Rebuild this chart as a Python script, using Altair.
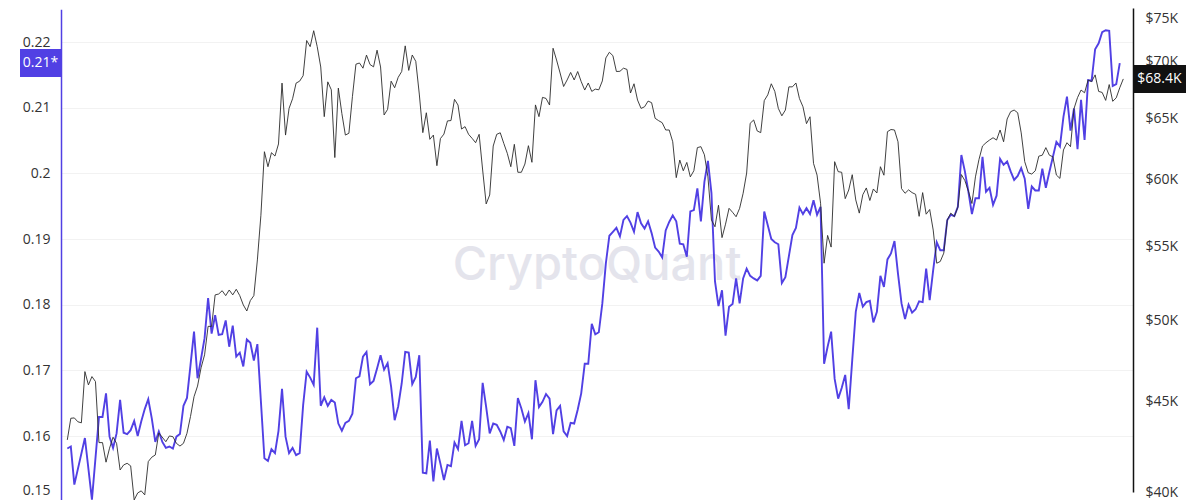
import math
import altair as alt
import pandas as pd

# ---------------- data ----------------
# Bitcoin price (USD), daily index from start of the window
black_days = list(range(0, 27)) + list(range(28, 301))
black_price_k = [
    42.80, 44.02, 44.04, 43.82, 43.76, 46.77, 45.97, 46.47, 46.17, 42.65,
    42.65, 41.58, 42.34, 42.95, 42.61, 41.16, 41.43, 41.52, 41.38, 39.59,
    39.95, 40.06, 39.85, 41.61, 41.85, 41.97, 43.19,
    42.70, 43.02, 42.98, 42.61, 42.46, 42.61, 43.17, 44.12, 45.27, 45.90,
    47.00, 47.80, 49.60, 49.60, 51.67, 51.73, 51.95, 51.62, 52.00, 51.67,
    52.05, 51.62, 51.00, 50.60, 51.29, 51.62, 54.07, 57.30, 62.23, 61.03,
    62.15, 61.88, 62.86, 68.03, 63.59, 65.83, 66.66, 68.03, 68.20, 68.69,
    71.90, 71.33, 72.82, 71.33, 69.47, 65.13, 68.14, 67.44, 61.76, 67.59,
    65.40, 63.59, 63.74, 66.84, 69.72, 69.83, 69.36, 70.55, 69.69, 69.48,
    71.00, 69.47, 65.27, 65.75, 68.20, 67.62, 68.54, 69.06, 71.40, 69.16,
    70.56, 69.98, 67.07, 63.79, 65.46, 63.24, 63.59, 61.11, 63.30, 63.67,
    64.77, 64.80, 66.61, 66.12, 64.09, 64.29, 63.65, 63.32, 62.96, 63.65,
    60.77, 58.15, 58.83, 62.69, 63.65, 63.78, 62.91, 62.10, 61.03, 62.83,
    60.59, 60.59, 61.24, 62.72, 61.38, 66.13, 65.13, 66.78, 66.69, 66.12,
    71.18, 70.10, 68.93, 67.73, 68.31, 68.98, 68.31, 69.06, 68.16, 67.42,
    68.04, 67.30, 67.50, 67.44, 68.22, 70.29, 70.81, 70.50, 69.06, 69.08,
    69.36, 69.25, 67.16, 67.97, 66.55, 65.83, 65.97, 66.46, 66.32, 64.99,
    64.79, 64.62, 64.01, 64.01, 63.04, 60.17, 61.56, 60.71, 61.37, 60.23,
    60.71, 62.56, 62.64, 61.98, 60.23, 56.95, 56.45, 58.05, 55.66, 56.64,
    57.82, 57.52, 57.19, 57.82, 58.96, 60.53, 64.57, 64.85, 63.93, 63.79,
    66.50, 67.00, 67.97, 67.30, 65.83, 65.20, 65.69, 67.70, 67.70, 68.04,
    66.68, 65.97, 64.54, 65.12, 61.29, 60.37, 58.20, 53.84, 55.82, 54.98,
    61.43, 60.64, 60.59, 58.55, 59.21, 60.40, 58.45, 57.46, 58.85, 59.37,
    58.41, 59.29, 58.98, 61.03, 60.36, 63.87, 64.05, 64.01, 63.04, 59.32,
    58.96, 59.22, 59.01, 58.88, 57.22, 59.01, 57.38, 57.73, 56.21, 53.84,
    53.96, 54.55, 56.95, 57.46, 57.20, 57.91, 60.41, 59.94, 59.12, 58.18,
    60.23, 61.60, 62.69, 62.96, 63.18, 63.37, 63.18, 64.01, 63.04, 64.93,
    65.55, 65.69, 65.46, 63.77, 61.43, 60.55, 60.45, 60.71, 61.87, 61.95,
    62.56, 61.95, 61.82, 60.37, 60.11, 62.37, 62.96, 62.64, 65.81, 66.76,
    67.42, 67.18, 68.30, 68.16, 68.76, 67.30, 67.21, 66.52, 67.90, 66.44,
    66.74, 67.62, 68.40,
]

# Indicator (left axis)
blue_days = ([0, 1, 2, 5, 7] + list(range(9, 55)) + list(range(56, 280))
             + list(range(281, 300)))
blue_ratio = [
    0.1581, 0.1584, 0.1526, 0.1597, 0.1503,
    0.1629, 0.1629, 0.1665, 0.1599, 0.1582, 0.1604, 0.1655, 0.1605, 0.1603, 0.1609,
    0.1623, 0.1600, 0.1622, 0.1641, 0.1656, 0.1627, 0.1591, 0.1607, 0.1591, 0.1582,
    0.1584, 0.1581, 0.1599, 0.1603, 0.1646, 0.1658, 0.1708, 0.1759, 0.1688, 0.1718,
    0.1749, 0.1810, 0.1756, 0.1784, 0.1754, 0.1755, 0.1776, 0.1736, 0.1768, 0.1721,
    0.1727, 0.1706, 0.1747, 0.1742, 0.1715, 0.1740,
    0.1566, 0.1562, 0.1580, 0.1574, 0.1608, 0.1672, 0.1599, 0.1574, 0.1582, 0.1571,
    0.1574, 0.1647, 0.1698, 0.1689, 0.1678, 0.1765, 0.1646, 0.1659, 0.1646, 0.1655,
    0.1651, 0.1619, 0.1608, 0.1620, 0.1623, 0.1634, 0.1688, 0.1691, 0.1721, 0.1728,
    0.1679, 0.1684, 0.1703, 0.1723, 0.1701, 0.1711, 0.1675, 0.1624, 0.1645, 0.1680,
    0.1728, 0.1727, 0.1679, 0.1690, 0.1723, 0.1544, 0.1543, 0.1593, 0.1531, 0.1581,
    0.1558, 0.1533, 0.1556, 0.1554, 0.1590, 0.1580, 0.1623, 0.1586, 0.1589, 0.1623,
    0.1585, 0.1595, 0.1681, 0.1644, 0.1604, 0.1619, 0.1617, 0.1607, 0.1594, 0.1614,
    0.1612, 0.1585, 0.1658, 0.1642, 0.1622, 0.1635, 0.1595, 0.1685, 0.1644, 0.1652,
    0.1664, 0.1657, 0.1603, 0.1639, 0.1646, 0.1607, 0.1600, 0.1620, 0.1619, 0.1640,
    0.1665, 0.1710, 0.1710, 0.1771, 0.1755, 0.1758, 0.1802, 0.1863, 0.1905, 0.1911,
    0.1917, 0.1904, 0.1929, 0.1935, 0.1925, 0.1911, 0.1941, 0.1924, 0.1916, 0.1927,
    0.1909, 0.1887, 0.1881, 0.1872, 0.1913, 0.1926, 0.1936, 0.1927, 0.1893, 0.1892,
    0.1873, 0.1942, 0.1944, 0.1977, 0.1927, 0.1987, 0.2019, 0.1970, 0.1836, 0.1798,
    0.1822, 0.1753, 0.1797, 0.1801, 0.1840, 0.1802, 0.1840, 0.1855, 0.1844, 0.1840,
    0.1837, 0.1844, 0.1942, 0.1921, 0.1900, 0.1895, 0.1892, 0.1833, 0.1842, 0.1874,
    0.1906, 0.1917, 0.1948, 0.1938, 0.1947, 0.1938, 0.1959, 0.1937, 0.1949, 0.1710,
    0.1736, 0.1759, 0.1687, 0.1657, 0.1673, 0.1693, 0.1641, 0.1716, 0.1789, 0.1818,
    0.1797, 0.1804, 0.1806, 0.1773, 0.1789, 0.1844, 0.1827, 0.1869, 0.1878, 0.1897,
    0.1847, 0.1802, 0.1778, 0.1800, 0.1788, 0.1793, 0.1805, 0.1804, 0.1855, 0.1807,
    0.1853, 0.1895, 0.1883, 0.1883, 0.1929, 0.1937, 0.1935, 0.1949, 0.2028, 0.2003,
    0.1972, 0.1938, 0.1962, 0.1962, 0.2025, 0.1972, 0.1978, 0.1952, 0.1966, 0.2022,
    0.2013, 0.2018, 0.2003, 0.1990, 0.1996, 0.2008, 0.1992, 0.1946, 0.1980, 0.1974,
    0.1974, 0.2007, 0.1978, 0.2002,
    0.2048, 0.2041, 0.2086, 0.2117, 0.2065, 0.2099, 0.2037, 0.2112, 0.2051, 0.2142,
    0.2141, 0.2189, 0.2198, 0.2215, 0.2218, 0.2217, 0.2133, 0.2136, 0.2168,
]

left_ticks = [0.15, 0.16, 0.17, 0.18, 0.19, 0.20, 0.21, 0.22]
right_ticks = [40000, 45000, 50000, 55000, 60000, 65000, 70000, 75000]
watermark_text = ["CryptoQuant"]

# ---------------- frames ----------------
black_df = pd.DataFrame({"day": black_days, "price": [v * 1000 for v in black_price_k]})
blue_df = pd.DataFrame({"day": blue_days, "ratio": blue_ratio})

last_ratio = blue_ratio[-1]
last_price = black_price_k[-1] * 1000
blue_last = pd.DataFrame({"ratio": [last_ratio],
                          "label": [f"{math.floor(last_ratio * 100) / 100:.2f}*"]})
black_last = pd.DataFrame({"price": [last_price],
                           "label": [f"${last_price / 1000:.1f}K"]})
wm_df = pd.DataFrame({"t": watermark_text})

BLUE = "#5140e4"
DARK = "#111111"
FONT = "Open Sans"
W, H = 1072, 482

x_enc = alt.X("day:Q", axis=None,
              scale=alt.Scale(domain=[-1.79, 302.76], nice=False, zero=False))

left_scale = alt.Scale(domain=[0.15, 0.225], range=[491.7, -0.8], nice=False, zero=False)
right_scale = alt.Scale(type="log", domain=[40000, 75000], range=[482, -2], nice=False)

left_axis = alt.Axis(orient="left", values=left_ticks, format=".2~f", grid=True,
                     gridColor="#f2f2f2", gridWidth=1, domainColor=BLUE, domainWidth=1.5,
                     ticks=False, labelPadding=11, title=None, labelFont=FONT,
                     labelFontSize=14, labelColor="#333333", labelOverlap=False,
                     labelBaseline={"condition": {"test": "datum.value < 0.155",
                                                  "value": "bottom"},
                                    "value": "middle"},
                     labelOffset={"condition": {"test": "datum.value < 0.155",
                                                "value": -4},
                                  "value": 0})
right_axis = alt.Axis(orient="right", values=right_ticks,
                      labelExpr="'$' + (datum.value / 1000) + 'K'", grid=False,
                      domainColor=DARK, domainWidth=1.5, ticks=False, labelPadding=12,
                      title=None, labelFont=FONT, labelFontSize=14, labelColor="#333333",
                      labelOverlap=False,
                      labelBaseline={"condition": {"test": "datum.value > 74000",
                                                   "value": "top"},
                                     "value": "middle"},
                      labelOffset={"condition": {"test": "datum.value > 74000",
                                                 "value": 3},
                                   "value": 0})

watermark = alt.Chart(wm_df).mark_text(
    font="Inter", fontSize=47, fontWeight=500, color="#e4e4ec",
    align="center", baseline="alphabetic"
).encode(x=alt.value(536), y=alt.value(270), text="t:N")

yl = alt.Y("ratio:Q", scale=left_scale, axis=left_axis)
yr = alt.Y("price:Q", scale=right_scale, axis=right_axis)

blue_line = alt.Chart(blue_df).mark_line(color=BLUE, strokeWidth=1.9).encode(x=x_enc, y=yl)
blue_box = alt.Chart(blue_last).mark_rect(color=BLUE, yOffset=-14, y2Offset=14).encode(
    x=alt.value(-41), x2=alt.value(0), y=yl, y2="ratio:Q")
blue_txt = alt.Chart(blue_last).mark_text(
    color="white", font=FONT, fontSize=14, align="center", baseline="middle"
).encode(x=alt.value(-20.5), y=yl, text="label:N")

black_line = alt.Chart(black_df).mark_line(color="#2b2b2b", strokeWidth=0.9).encode(x=x_enc, y=yr)
black_box = alt.Chart(black_last).mark_rect(color=DARK, yOffset=-14, y2Offset=14).encode(
    x=alt.value(W), x2=alt.value(W + 53), y=yr, y2="price:Q")
black_txt = alt.Chart(black_last).mark_text(
    color="white", font=FONT, fontSize=14, align="center", baseline="middle"
).encode(x=alt.value(W + 26.5), y=yr, text="label:N")

left_layer = alt.layer(blue_line, blue_box, blue_txt)
right_layer = alt.layer(black_line, black_box, black_txt)

chart = alt.layer(watermark, left_layer, right_layer).resolve_scale(
    y="independent"
).properties(
    width=W, height=H,
    autosize=alt.AutoSizeParams(type="none"),
    padding={"left": 53, "top": 2, "right": 55, "bottom": 8},
    background="white",
).configure_view(stroke=None)

chart.save("out.html", embed_options={"renderer": "svg", "actions": False})
